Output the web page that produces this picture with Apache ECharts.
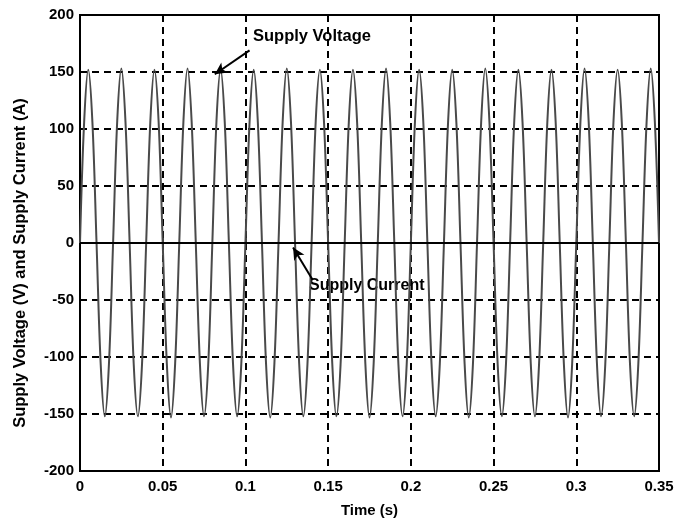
<!DOCTYPE html>
<html><head><meta charset="utf-8">
<script src="https://cdn.jsdelivr.net/npm/echarts@6/dist/echarts.min.js"></script>
<style>html,body{margin:0;padding:0;background:#fff}#c{width:680px;height:523px}</style>
</head><body><div id="c"></div>
<script>
// sampling step of the read-off waveform (s)
const sampleStep = 0.0025;
// Supply voltage (V), read every 2.5 ms from the picture (50 Hz, ~152 V peak)
const voltage = [
  0, 106, 152, 106, 0, -106, -152, -106,
  0, 107, 153, 106, 0, -107, -152, -106,
  0, 106, 152, 107, 0, -106, -153, -106,
  0, 106, 153, 106, 0, -106, -152, -107,
  0, 107, 152, 106, 0, -106, -152, -106,
  0, 106, 152, 106, 0, -107, -153, -106,
  0, 106, 153, 107, 0, -106, -152, -106,
  0, 107, 152, 106, 0, -106, -152, -107,
  0, 106, 152, 106, 0, -106, -153, -106,
  0, 106, 153, 106, 0, -107, -152, -106,
  0, 107, 152, 107, 0, -106, -152, -106,
  0, 106, 152, 106, 0, -106, -153, -107,
  0, 106, 153, 106, 0, -107, -152, -106,
  0, 107, 152, 106, 0, -106, -152, -106,
  0, 106, 152, 107, 0, -106, -153, -106,
  0, 106, 153, 106, 0, -106, -152, -107,
  0, 107, 152, 106, 0, -107, -152, -106,
  0, 106, 153, 106, 0
];
// Supply current (A): flat at zero
const currentTimes = [0, 0.05, 0.1, 0.15, 0.2, 0.25, 0.3, 0.35];
const current = [0, 0, 0, 0, 0, 0, 0, 0];
// axis ticks
const xMin = 0, xMax = 0.35, xStep = 0.05;
const yMin = -200, yMax = 200, yStep = 50;
// annotations: arrow tail [t,v] -> arrow head [t,v]
const voltageNote = {label: 'Supply Voltage', tail: [0.1025, 169], head: [0.0815, 148]};
const currentNote = {label: 'Supply Current', tail: [0.1405, -32], head: [0.1288, -4]};

const voltageData = voltage.map((v, i) => [+(i * sampleStep).toFixed(4), v]);
const currentData = current.map((v, i) => [currentTimes[i], v]);

const FONT = "'Liberation Sans', Arial, sans-serif";
const chart = echarts.init(document.getElementById('c'));

function arrowLine(note) {
  return {
    silent: true,
    symbol: ['none', 'arrow'],
    symbolSize: [9, 12],
    label: {show: false},
    lineStyle: {color: '#000', width: 2, type: 'solid'},
    data: [[{coord: note.tail}, {coord: note.head}]]
  };
}

chart.setOption({
  animation: false,
  backgroundColor: '#fff',
  grid: {left: 80, right: 21, top: 15, bottom: 51, show: true, borderColor: '#000', borderWidth: 2, backgroundColor: 'transparent'},
  xAxis: {
    type: 'value', min: xMin, max: xMax, interval: xStep,
    name: 'Time (s)', nameLocation: 'middle', nameGap: 32,
    nameTextStyle: {fontFamily: FONT, fontSize: 15, fontWeight: 'bold', color: '#000'},
    axisLine: {show: true, lineStyle: {color: '#000', width: 2}},
    axisTick: {show: true, inside: true, length: 5, lineStyle: {color: '#000', width: 1.5}},
    axisLabel: {fontFamily: FONT, fontSize: 15, fontWeight: 'bold', color: '#000', margin: 8},
    splitLine: {show: true, lineStyle: {color: '#000', width: 2, type: [7, 5]}}
  },
  yAxis: {
    type: 'value', min: yMin, max: yMax, interval: yStep,
    axisLine: {show: true, lineStyle: {color: '#000', width: 2}},
    axisTick: {show: true, inside: true, length: 5, lineStyle: {color: '#000', width: 1.5}},
    axisLabel: {fontFamily: FONT, fontSize: 15, fontWeight: 'bold', color: '#000', margin: 6},
    splitLine: {show: true, lineStyle: {color: '#000', width: 2, type: [7, 5]}}
  },
  graphic: [
    {type: 'text', x: 20, y: 263, rotation: Math.PI / 2,
     style: {text: 'Supply Voltage (V) and Supply Current (A)', font: `bold 16.5px ${FONT}`, fill: '#000', align: 'center', verticalAlign: 'middle'}},
    {type: 'text', left: 253, top: 28, style: {text: voltageNote.label, font: `bold 16.5px ${FONT}`, fill: '#000'}},
    {type: 'text', left: 309, top: 278, style: {text: currentNote.label, font: `bold 16px ${FONT}`, fill: '#000'}}
  ],
  series: [
    {
      name: 'Supply Voltage', type: 'line', data: voltageData, smooth: 0.35,
      showSymbol: false, clip: true,
      lineStyle: {color: '#4a4a4a', width: 2},
      markLine: arrowLine(voltageNote)
    },
    {
      name: 'Supply Current', type: 'line', data: currentData,
      showSymbol: false,
      lineStyle: {color: '#000', width: 2},
      markLine: arrowLine(currentNote)
    }
  ]
});
</script>
</body></html>
